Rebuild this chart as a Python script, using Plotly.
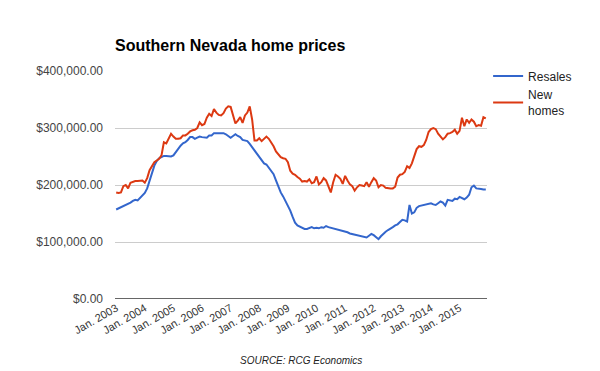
import plotly.graph_objects as go

# Monthly categories Jan 2003 - Dec 2015
months = [f"{y}-{m:02d}" for y in range(2003, 2016) for m in range(1, 13)]

# Median prices, thousands of dollars
resales = [
    157, 159, 161, 162, 164, 166, 169, 172, 174, 173, 178, 181,
    186, 194, 208, 223, 234, 242, 247, 249, 251, 251, 250, 250,
    252, 258, 262, 269, 273, 275, 279, 284, 284, 281, 283, 285,
    284, 283, 283, 287, 287, 291, 291, 290, 290, 291, 289, 286,
    283, 286, 289, 286, 284, 279, 278, 277, 272, 266, 261, 255,
    248, 243, 238, 236, 231, 226, 219, 208, 196, 187, 180, 172,
    163, 155, 144, 134, 129, 127, 125, 123, 123, 125, 126, 124,
    125, 124, 126, 125, 128, 126, 125, 124, 123, 121, 121, 119,
    118, 117, 115, 114, 113, 112, 111, 110, 108, 108, 111, 114,
    112, 108, 105, 110, 115, 118, 121, 123, 126, 129, 131, 135,
    139, 138, 136, 165, 150, 152, 160, 163, 164, 165, 165, 167,
    168, 166, 165, 168, 171, 169, 164, 174, 173, 172, 176, 175,
    179, 177, 175, 178, 183, 196, 199, 194, 194, 193, 192, 192,
]
new_homes = [
    187, 186, 187, 198, 200, 194, 204, 206, 207, 207, 208, 208,
    204, 212, 226, 233, 240, 243, 246, 252, 275, 273, 282, 290,
    285, 281, 281, 282, 287, 287, 290, 294, 296, 297, 300, 310,
    305, 307, 318, 325, 321, 333, 327, 323, 322, 326, 334, 338,
    337, 322, 308, 313, 319, 309, 322, 327, 338, 315, 278, 278,
    282, 277, 282, 285, 281, 275, 268, 259, 254, 249, 247, 246,
    240, 225, 220, 218, 214, 211, 206, 207, 206, 210, 203, 205,
    215, 201, 205, 212, 208, 198, 187, 205, 218, 215, 211, 202,
    216, 208, 201, 198, 190, 196, 200, 199, 198, 205, 197, 205,
    212, 208, 196, 200, 199, 195, 194, 194, 194, 197, 213, 218,
    219, 223, 233, 230, 238, 252, 263, 268, 267, 270, 279, 293,
    298, 300, 298, 290, 285, 280, 284, 290, 291, 293, 297, 290,
    295, 318, 303, 315, 309, 315, 311, 303, 305, 304, 319, 317,
]

x_tick_vals = [f"{y}-01" for y in range(2003, 2016)]
x_tick_labels = [f"Jan. {y}" for y in range(2003, 2016)]
y_tick_vals = [0, 100, 200, 300, 400]
y_tick_labels = ["$0.00", "$100,000.00", "$200,000.00", "$300,000.00", "$400,000.00"]

FONT = "Liberation Sans, Arial, sans-serif"

fig = go.Figure()
fig.add_trace(go.Scatter(x=months, y=resales, mode="lines", name="Resales",
                         line=dict(color="#3366cc", width=2)))
fig.add_trace(go.Scatter(x=months, y=new_homes, mode="lines", name="New<br>homes",
                         line=dict(color="#dc3912", width=2)))

fig.update_layout(
    width=600, height=371,
    margin=dict(l=115, r=113, t=71, b=72, autoexpand=False),
    paper_bgcolor="white", plot_bgcolor="white",
    font=dict(family=FONT, size=12, color="#444"),
    title=dict(text="<b>Southern Nevada home prices</b>", x=0, xref="paper",
               xanchor="left", y=1 - 45 / 371, yref="container", yanchor="middle",
               font=dict(family=FONT, size=16, color="#000")),
    showlegend=True,
    legend=dict(x=1.003, xanchor="left", y=1.042, yanchor="top",
                font=dict(family=FONT, size=12, color="#222"),
                bgcolor="rgba(0,0,0,0)"),
    xaxis=dict(type="category", range=[-0.5, len(months) - 0.5], automargin=False,
               tickmode="array", tickvals=x_tick_vals, ticktext=x_tick_labels,
               tickangle=-30, showgrid=False, zeroline=False, showline=False,
               ticks="", tickfont=dict(size=11, color="#333")),
    yaxis=dict(range=[0, 400], tickmode="array", tickvals=y_tick_vals, automargin=False,
               ticktext=y_tick_labels, showgrid=True, gridcolor="#cccccc",
               gridwidth=1, zeroline=False, showline=False, ticks="",
               tickfont=dict(size=12, color="#444"), ticklabelstandoff=11),
    annotations=[dict(text="<i>SOURCE: RCG Economics</i>", x=0.5, xref="paper",
                      y=(299 - 360) / 228, yref="paper", yanchor="middle",
                      showarrow=False, font=dict(family=FONT, size=10, color="#222"))],
    shapes=[dict(type="line", xref="paper", yref="y", x0=0, x1=1, y0=0, y1=0,
                 line=dict(color="#333", width=1.5))],
)

fig.write_html("out.html", config={"displayModeBar": False},
               post_script="document.body.style.margin='0';")
